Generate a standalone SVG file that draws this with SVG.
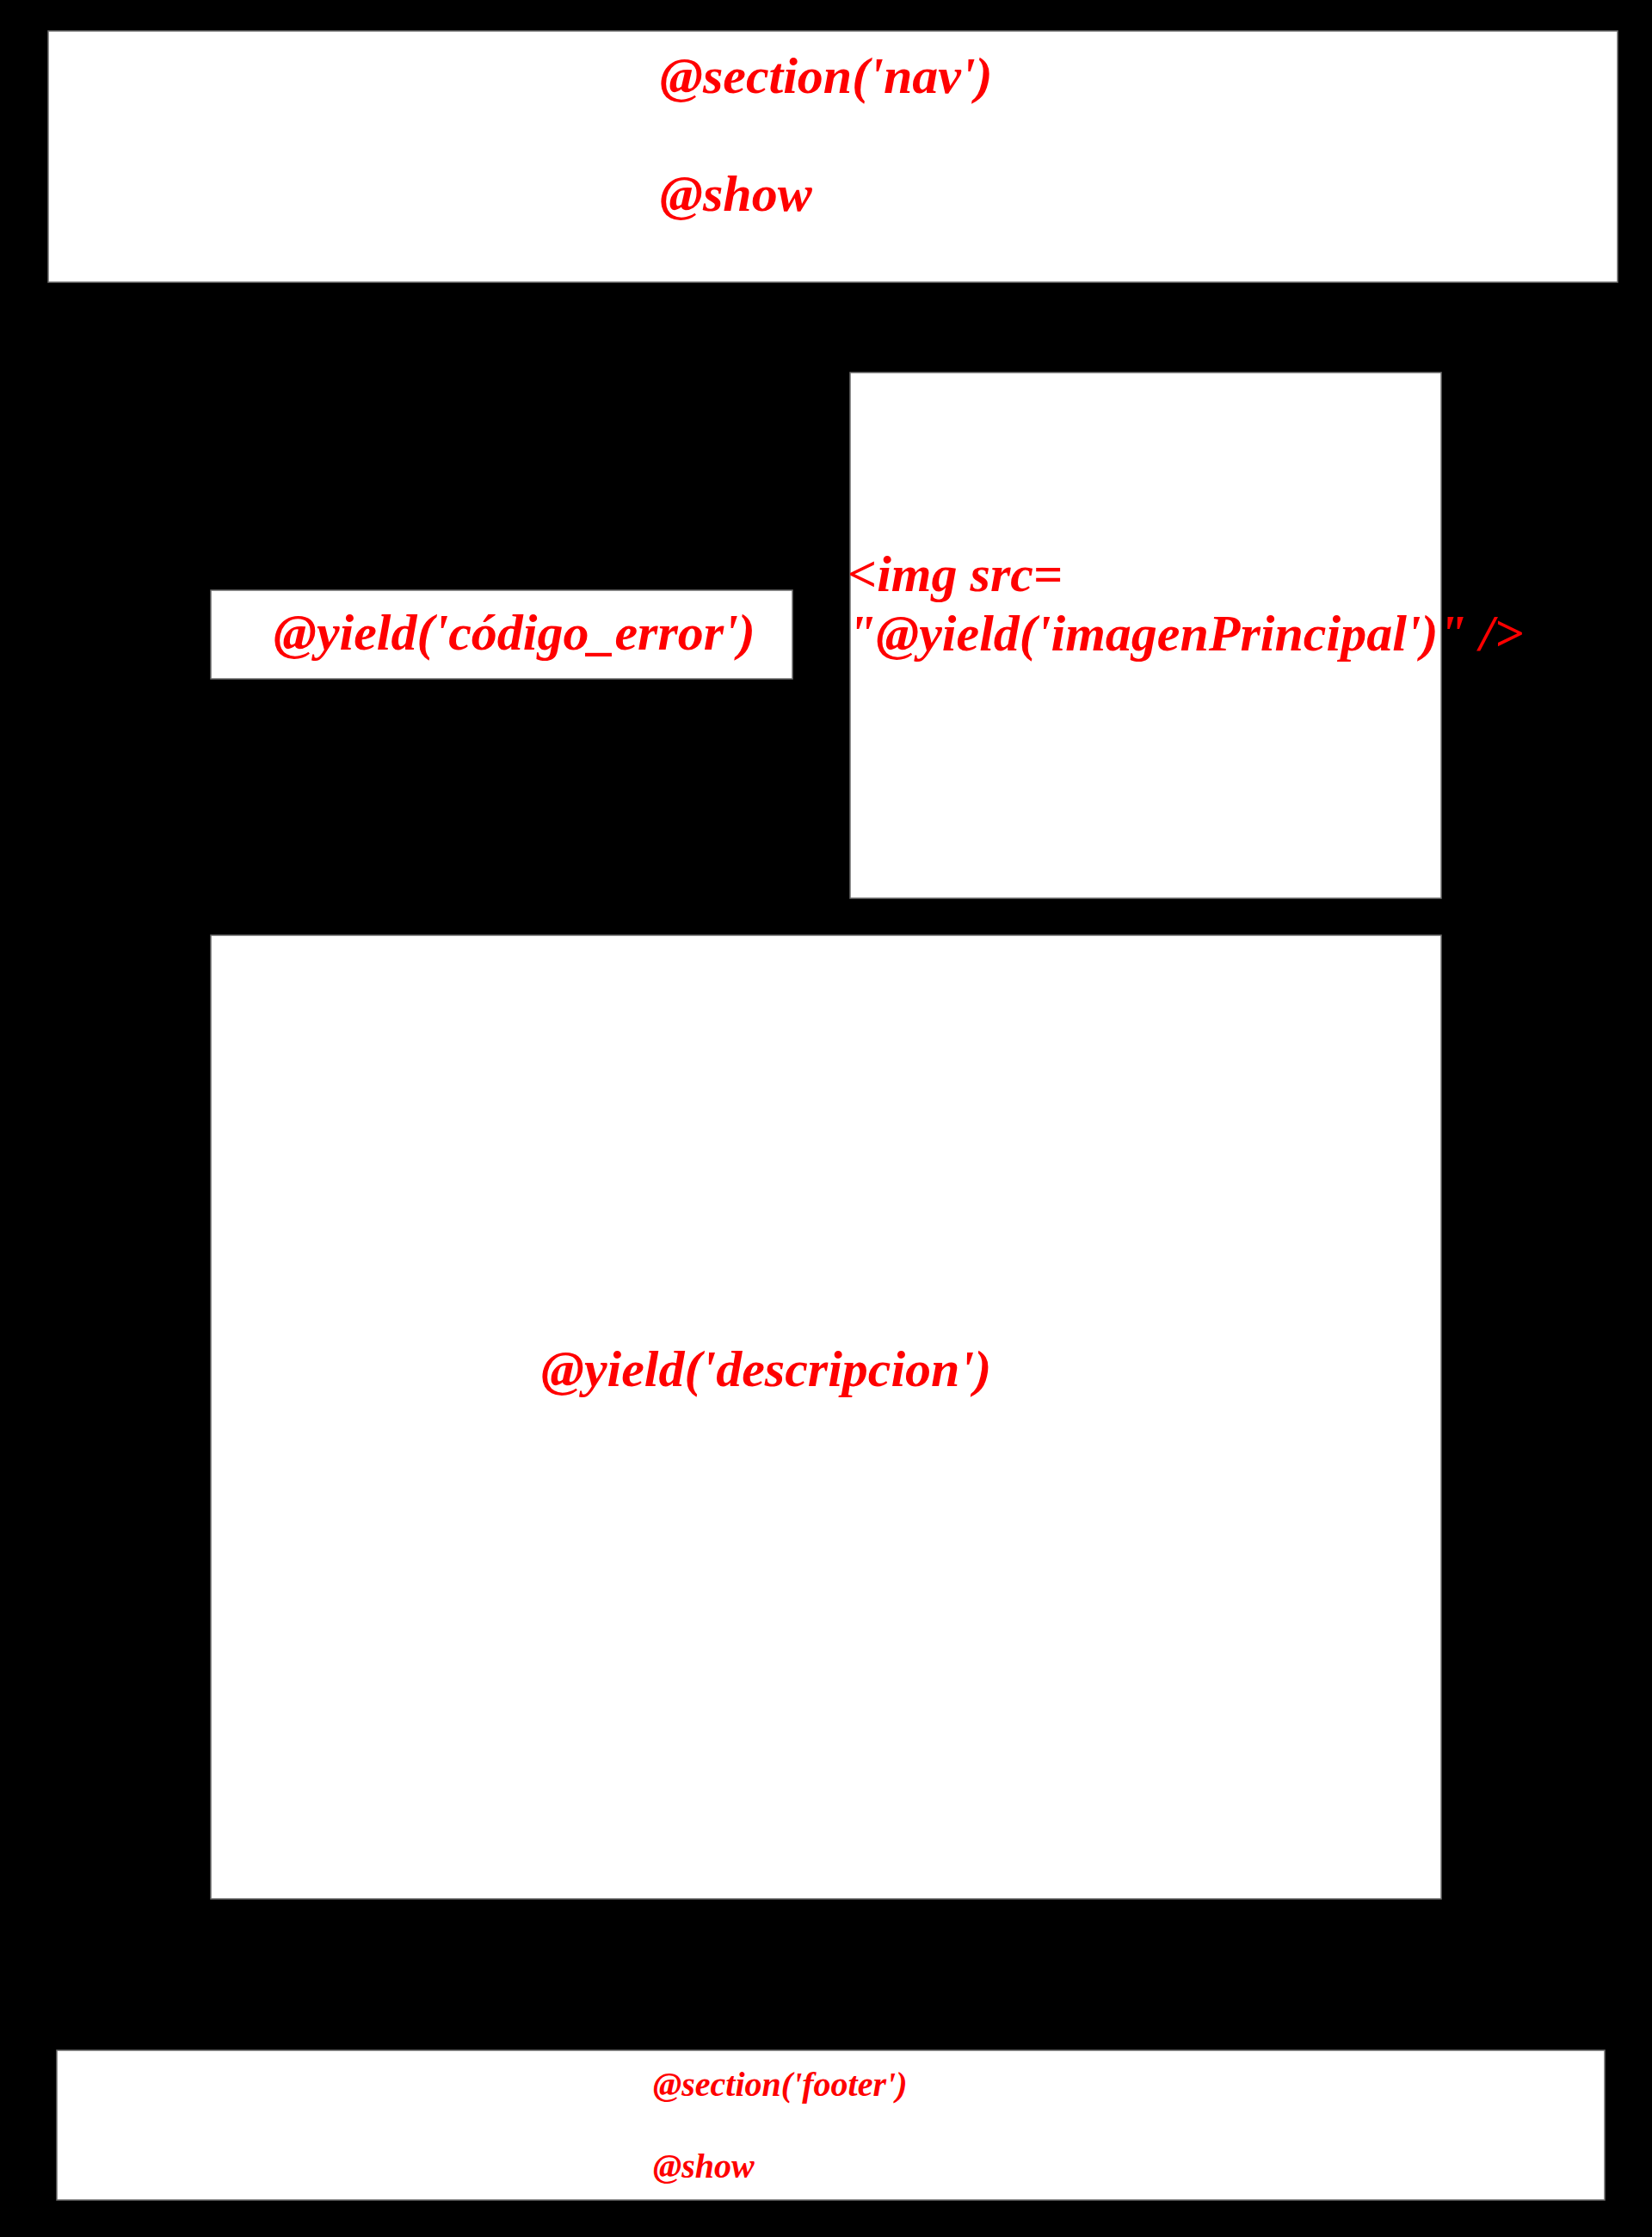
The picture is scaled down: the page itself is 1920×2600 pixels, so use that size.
<svg xmlns="http://www.w3.org/2000/svg" width="1920" height="2600" viewBox="0 0 1920 2600">
<style>
.box{fill:#ffffff;stroke:#6e6e6e;stroke-width:1.5}
.t{fill:#ff0000;font-family:"Liberation Serif","Times New Roman",serif;font-weight:bold;font-style:italic;font-size:60px}
.s{font-size:40px}
</style>
<rect x="0" y="0" width="1920" height="2600" fill="#000000"/>
<g id="nav">
<rect class="box" x="56" y="36" width="1824" height="292"/>
<text class="t" x="767" y="108">@section('nav')</text>
<text class="t" x="767" y="245">@show</text>
</g>
<g id="codigo">
<rect class="box" x="245" y="686" width="676" height="103"/>
<text class="t" x="318" y="755">@yield('código_error')</text>
</g>
<g id="imagen">
<rect class="box" x="988" y="433" width="687" height="611"/>
<text class="t" x="985" y="687">&lt;img src=</text>
<text class="t" x="985" y="756">"@yield('imagenPrincipal')" /&gt;</text>
</g>
<g id="descripcion">
<rect class="box" x="245" y="1087" width="1430" height="1120"/>
<text class="t" x="629" y="1611">@yield('descripcion')</text>
</g>
<g id="footer">
<rect class="box" x="66" y="2383" width="1799" height="174"/>
<text class="t s" x="759" y="2436">@section('footer')</text>
<text class="t s" x="759" y="2531">@show</text>
</g>
<g id="connectors"></g>
</svg>
